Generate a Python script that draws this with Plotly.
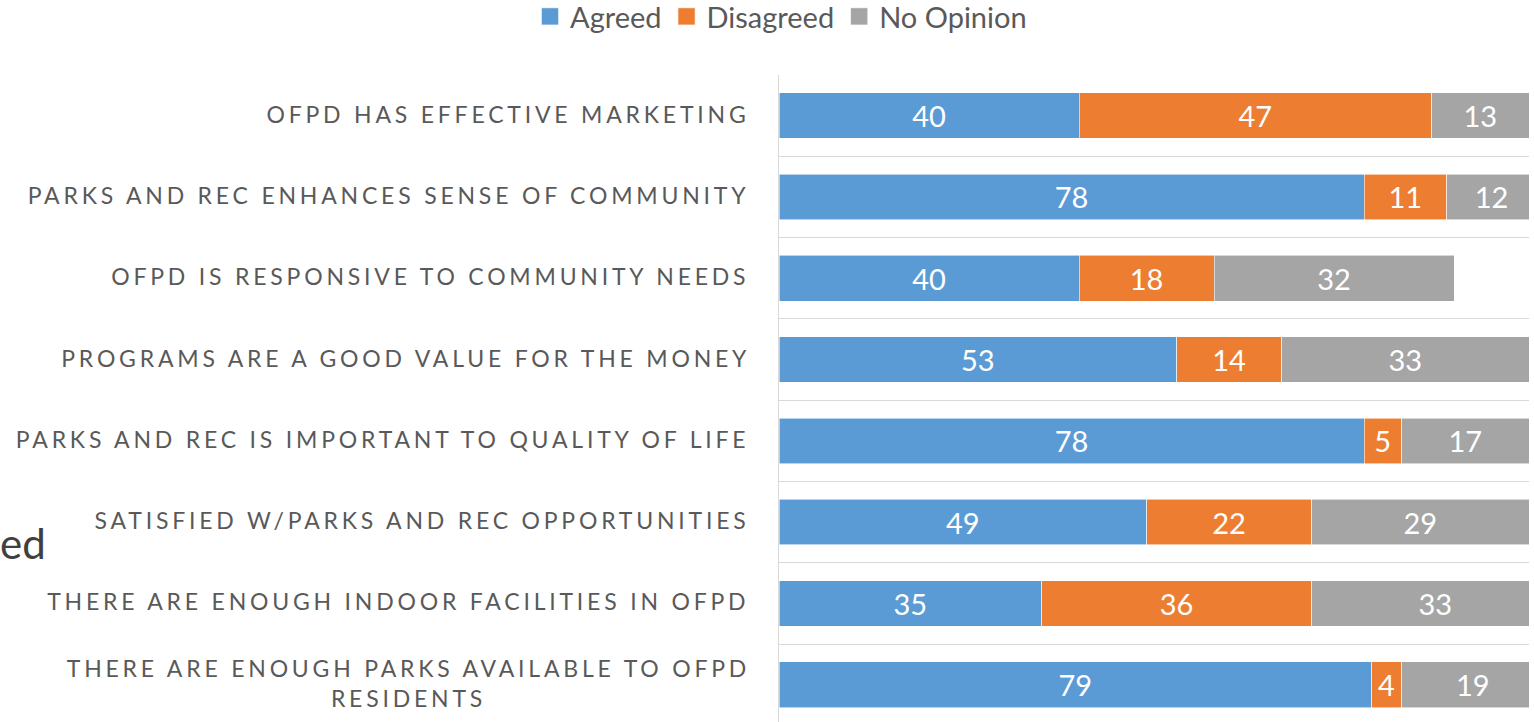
import plotly.graph_objects as go

categories = [
    "OFPD HAS EFFECTIVE MARKETING",
    "PARKS AND REC ENHANCES SENSE OF COMMUNITY",
    "OFPD IS RESPONSIVE TO COMMUNITY NEEDS",
    "PROGRAMS ARE A GOOD VALUE FOR THE MONEY",
    "PARKS AND REC IS IMPORTANT TO QUALITY OF LIFE",
    "SATISFIED W/PARKS AND REC OPPORTUNITIES",
    "THERE ARE ENOUGH INDOOR FACILITIES IN OFPD",
    "THERE ARE ENOUGH PARKS AVAILABLE TO OFPD RESIDENTS",
]
label_text = [
    "OFPD HAS EFFECTIVE MARKETING",
    "PARKS AND REC ENHANCES SENSE OF COMMUNITY",
    "OFPD IS RESPONSIVE TO COMMUNITY NEEDS",
    "PROGRAMS ARE A GOOD VALUE FOR THE MONEY",
    "PARKS AND REC IS IMPORTANT TO QUALITY OF LIFE",
    "SATISFIED W/PARKS AND REC OPPORTUNITIES",
    "THERE ARE ENOUGH INDOOR FACILITIES IN OFPD",
    "THERE ARE ENOUGH PARKS AVAILABLE TO OFPD<br>RESIDENTS",
]
agreed = [40, 78, 40, 53, 78, 49, 35, 79]
disagreed = [47, 11, 18, 14, 5, 22, 36, 4]
no_opinion = [13, 12, 32, 33, 17, 29, 33, 19]

series = [
    ("Agreed", agreed, "#5B9BD5"),
    ("Disagreed", disagreed, "#ED7D31"),
    ("No Opinion", no_opinion, "#A5A5A5"),
]

FONT = "Lato"
W, H = 1534, 722
ML, MR, MT, MB = 779, 5, 75, 0

fig = go.Figure()
for name, vals, color in series:
    fig.add_trace(go.Bar(
        name=name, y=categories, x=vals, orientation="h",
        marker=dict(color=color, line=dict(color="rgba(255,255,255,0.7)", width=0.8)),
        text=[str(v) for v in vals], textposition="inside",
        insidetextanchor="middle", textangle=0,
        textfont=dict(family=FONT, size=29, color="white"),
        hoverinfo="skip",
    ))

plot_h = H - MT - MB
band = 81.3
annotations = []
for cat, lab in zip(categories, label_text):
    annotations.append(dict(
        text=lab, x=0, xref="paper", xanchor="right", xshift=-31, yshift=2,
        y=cat, yref="y", yanchor="middle", showarrow=False, align="center",
        font=dict(family=FONT, size=23, color="#595959"),
    ))
annotations.append(dict(
    text="ed", x=0, xref="paper", xanchor="left", xshift=-ML - 2, yshift=2,
    y=(H - MB - 545) / plot_h, yref="paper", yanchor="middle", showarrow=False,
    font=dict(family=FONT, size=42, color="#404040"),
))

fig.update_layout(
    width=W, height=H,
    margin=dict(l=ML, r=MR, t=MT, b=MB, pad=0, autoexpand=False),
    barmode="stack", bargap=0.44,
    plot_bgcolor="white", paper_bgcolor="white",
    font=dict(family=FONT, color="#595959"),
    showlegend=True,
    legend=dict(
        orientation="h", xref="container", yref="container",
        x=781 / W, xanchor="center", y=1.0, yanchor="top",
        font=dict(family=FONT, size=29, color="#595959"),
        traceorder="normal", itemclick=False, itemdoubleclick=False,
    ),
    xaxis=dict(range=[0, 100], showgrid=False, showticklabels=False,
               zeroline=False, showline=False, fixedrange=True),
    yaxis=dict(categoryorder="array", categoryarray=categories,
               range=[-0.5 + plot_h / band, -0.5],
               showticklabels=False, ticks="", tickson="boundaries",
               showgrid=True, gridcolor="#D9D9D9", gridwidth=1.3,
               showline=True, linecolor="#D9D9D9", linewidth=1.3,
               zeroline=False, fixedrange=True),
    annotations=annotations,
)

post = """
document.body.style.margin = '0';
document.body.style.overflow = 'hidden';
var gd = document.getElementById('{plot_id}');
var els = gd.querySelectorAll('.annotation-text');
els.forEach(function(el){
  if (el.textContent === 'ed') return;
  var r0 = el.getBBox();
  el.style.letterSpacing = '3.8px';
  var r1 = el.getBBox();
  var dx = (r0.x + r0.width) - (r1.x + r1.width) + 3.8;
  el.setAttribute('transform', 'translate(' + dx + ',0)');
});
gd.querySelectorAll('.legendpoints path').forEach(function(p){
  var t = p.getAttribute('transform') || '';
  p.setAttribute('transform', t + ' scale(1.45)');
});
var lg = gd.querySelector('g.legend');
if (lg) {
  var lt = lg.getAttribute('transform') || '';
  lg.setAttribute('transform', lt + ' translate(0,-9)');
}
"""

fig.write_html("out.html", post_script=post, config={"displayModeBar": False})
